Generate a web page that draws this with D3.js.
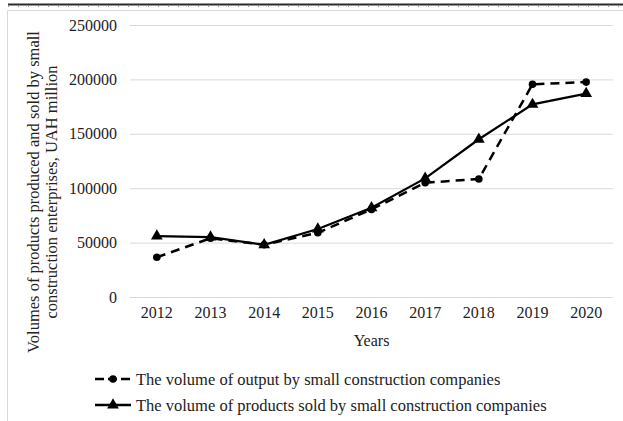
<!DOCTYPE html>
<html>
<head>
<meta charset="utf-8">
<script src="https://cdn.jsdelivr.net/npm/d3@7"></script>
<style>
  body { margin: 0; background: #fff; }
  svg text { font-family: "Liberation Serif", "Times New Roman", serif; }
</style>
</head>
<body>
<div id="chart"></div>
<script>
// data
const years = ['2012', '2013', '2014', '2015', '2016', '2017', '2018', '2019', '2020']
const output = [36500, 54000, 48000, 59000, 80500, 105000, 108500, 195500, 197500]
const sold = [56000, 55000, 48000, 62500, 82000, 109000, 145000, 177000, 187000]
const yTicks = [0, 50000, 100000, 150000, 200000, 250000]
const seriesNames = [
  'The volume of output by small construction companies',
  'The volume of products sold by small construction companies'
]

const W = 623, H = 421
const plot = { left: 130, right: 613, top: 25, bottom: 297 }
const serif = '"Liberation Serif", "Times New Roman", serif'

const svg = d3.select('#chart').append('svg').attr('width', W).attr('height', H)

// page decoration: dark rule on top (with faint ticks), light chart frame
svg.append('line').attr('x1', 8).attr('x2', W).attr('y1', 4.5).attr('y2', 4.5)
  .attr('stroke', '#2b2b2b').attr('stroke-width', 2)
svg.append('line').attr('x1', 8).attr('x2', W).attr('y1', 6.5).attr('y2', 6.5)
  .attr('stroke', '#999').attr('stroke-width', 1).attr('stroke-dasharray', '1,9')
svg.append('path').attr('d', `M${W},10.5 H7.5 V${H}`)
  .attr('fill', 'none').attr('stroke', '#d9d9d9').attr('stroke-width', 1)

const x = d3.scaleBand().domain(years).range([plot.left, plot.right])
const y = d3.scaleLinear().domain([0, 250000]).range([plot.bottom, plot.top])
const cx = d => x(d) + x.bandwidth() / 2

// gridlines + y labels
const yAxis = svg.append('g').attr('transform', `translate(${plot.left},0)`)
  .call(d3.axisLeft(y).tickValues(yTicks).tickSize(-(plot.right - plot.left)).tickPadding(13).tickFormat(d3.format('d')))
yAxis.attr('font-family', serif).attr('font-size', 16)
yAxis.select('.domain').remove()
yAxis.selectAll('.tick line').attr('stroke', '#d9d9d9').attr('stroke-width', 1)
yAxis.selectAll('.tick text').attr('fill', '#222')

// x labels
const xAxis = svg.append('g').attr('transform', `translate(0,${plot.bottom})`)
  .call(d3.axisBottom(x).tickSize(0).tickPadding(10))
xAxis.attr('font-family', serif).attr('font-size', 16)
xAxis.select('.domain').remove()
xAxis.selectAll('.tick text').attr('fill', '#222')

// axis titles
svg.append('text').attr('x', (plot.left + plot.right) / 2).attr('y', 346)
  .attr('text-anchor', 'middle').attr('fill', '#222').style('font-size', '16px')
  .text('Years')

const yTitle = svg.append('g').attr('transform', 'translate(0,192) rotate(-90)')
yTitle.append('text').attr('x', 0).attr('y', 39).attr('text-anchor', 'middle')
  .attr('fill', '#222').style('font-size', '16.5px')
  .text('Volumes of products produced and sold by small')
yTitle.append('text').attr('x', 0).attr('y', 57).attr('text-anchor', 'middle')
  .attr('fill', '#222').style('font-size', '16.5px')
  .text('construction enterprises, UAH million')

const line = d3.line().x((d, i) => cx(years[i])).y(d => y(d))
const tri = d3.symbol().type(d3.symbolTriangle).size(60)

// output (dashed, circles)
svg.append('path').datum(output).attr('d', line)
  .attr('fill', 'none').attr('stroke', '#000').attr('stroke-width', 2.5).attr('stroke-dasharray', '9,6')
svg.append('g').selectAll('circle').data(output).join('circle')
  .attr('cx', (d, i) => cx(years[i])).attr('cy', d => y(d)).attr('r', 3.8).attr('fill', '#000')

// sold (solid, triangles)
svg.append('path').datum(sold).attr('d', line)
  .attr('fill', 'none').attr('stroke', '#000').attr('stroke-width', 2.25)
svg.append('g').selectAll('path').data(sold).join('path')
  .attr('d', tri).attr('transform', (d, i) => `translate(${cx(years[i])},${y(d)})`).attr('fill', '#000')

// legend
const legend = svg.append('g')
const rows = [{ name: seriesNames[0], dash: '9,4', mark: 'circle', y: 379 }, { name: seriesNames[1], dash: null, mark: 'tri', y: 405 }]
rows.forEach(r => {
  const g = legend.append('g').attr('transform', `translate(0,${r.y})`)
  g.append('line').attr('x1', 95).attr('x2', 131).attr('y1', 0).attr('y2', 0)
    .attr('stroke', '#000').attr('stroke-width', 2.5).attr('stroke-dasharray', r.dash)
  if (r.mark === 'circle') g.append('circle').attr('cx', 113).attr('cy', 0).attr('r', 3.8).attr('fill', '#000')
  else g.append('path').attr('d', tri).attr('transform', 'translate(113,0)').attr('fill', '#000')
  g.append('text').attr('x', 136).attr('y', 5.5).attr('fill', '#222').style('font-size', '16.5px').text(r.name)
})
</script>
</body>
</html>
